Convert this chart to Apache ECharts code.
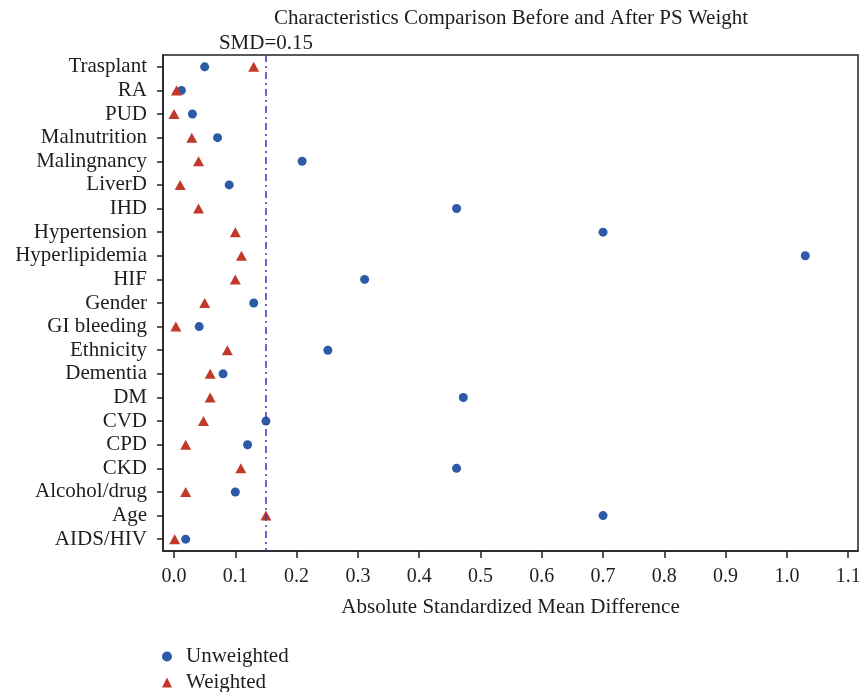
<!DOCTYPE html>
<html>
<head>
<meta charset="utf-8">
<script src="https://cdn.jsdelivr.net/npm/echarts@6/dist/echarts.min.js"></script>
<style>html,body{margin:0;padding:0;background:#fff}#c{width:859px;height:692px}</style>
</head>
<body>
<div id="c"></div>
<script>
const categories = ["Trasplant","RA","PUD","Malnutrition","Malingnancy","LiverD","IHD","Hypertension","Hyperlipidemia","HIF","Gender","GI bleeding","Ethnicity","Dementia","DM","CVD","CPD","CKD","Alcohol/drug","Age","AIDS/HIV"];
const unweighted = [0.05,0.012,0.03,0.071,0.209,0.09,0.461,0.70,1.03,0.311,0.13,0.041,0.251,0.080,0.472,0.15,0.12,0.461,0.10,0.70,0.019];
const weighted = [0.13,0.004,0.0,0.029,0.04,0.01,0.04,0.10,0.11,0.10,0.05,0.003,0.087,0.059,0.059,0.048,0.019,0.109,0.019,0.15,0.001];
const xTicks = [0,0.1,0.2,0.3,0.4,0.5,0.6,0.7,0.8,0.9,1.0,1.1];
const smdThreshold = 0.15;

const FONT = 'Liberation Serif';
const TXT = '#1e1e1e';
const legendBase = {
  orient:'vertical', left:162, padding:0, itemWidth:10, itemHeight:10,
  textStyle:{fontFamily:FONT, fontSize:21, lineHeight:20, color:TXT, padding:[0,0,0,9]}
};
const chart = echarts.init(document.getElementById('c'), null, {renderer:'canvas'});
chart.setOption({
  animation:false,
  backgroundColor:'#fff',
  title:{
    text:'Characteristics Comparison Before and After PS Weight',
    left:511, top:8, textAlign:'center', padding:0,
    textStyle:{fontFamily:FONT, fontSize:21, fontWeight:'normal', color:TXT}
  },
  legend:[
    Object.assign({}, legendBase, {top:646, data:[{name:'Unweighted', icon:'circle'}]}),
    Object.assign({}, legendBase, {top:672, data:[{name:'Weighted', icon:'triangle'}]})
  ],
  grid:{left:163, top:55, right:1, bottom:141, show:true, borderColor:'#222', borderWidth:1.5, backgroundColor:'#fff', containLabel:false, outerBoundsMode:'none'},
  xAxis:{
    type:'value', min:-0.018, max:1.116,
    name:'Absolute Standardized Mean Difference', nameLocation:'middle', nameGap:46,
    nameTextStyle:{fontFamily:FONT, fontSize:21, color:TXT},
    axisLine:{show:true, onZero:false, lineStyle:{color:'#222', width:1.5}},
    axisTick:{show:true, inside:false, length:7, lineStyle:{color:'#222', width:1.5}, customValues:xTicks},
    axisLabel:{fontFamily:FONT, fontSize:20, color:TXT, margin:16, customValues:xTicks,
      formatter:v=>v.toFixed(1)},
    splitLine:{show:false}
  },
  yAxis:{
    type:'category', data:categories, inverse:true, boundaryGap:true,
    axisLine:{show:true, onZero:false, lineStyle:{color:'#222', width:1.5}},
    axisTick:{show:true, alignWithLabel:true, interval:0, length:6, lineStyle:{color:'#222', width:1.5}},
    axisLabel:{fontFamily:FONT, fontSize:21, color:TXT, margin:16, interval:0, hideOverlap:false},
    splitLine:{show:false}
  },
  series:[
    {
      name:'Unweighted', type:'scatter', symbol:'circle', symbolSize:9,
      itemStyle:{color:'#2d5aa6', opacity:1},
      data:unweighted.map((v,i)=>[v,categories[i]]),
      z:3,
      markLine:{
        silent:true, symbol:'none',
        lineStyle:{color:'#4335bd', width:1.5, type:[7,4,2,4]},
        label:{show:true, position:'start', formatter:'SMD=0.15', fontFamily:FONT, fontSize:21, color:TXT, distance:1},
        data:[{xAxis:smdThreshold}]
      }
    },
    {
      name:'Weighted', type:'scatter', symbol:'triangle', symbolSize:[11,10],
      itemStyle:{color:'#c0392b', opacity:1},
      data:weighted.map((v,i)=>[v,categories[i]]),
      z:4
    }
  ]
});
</script>
</body>
</html>
